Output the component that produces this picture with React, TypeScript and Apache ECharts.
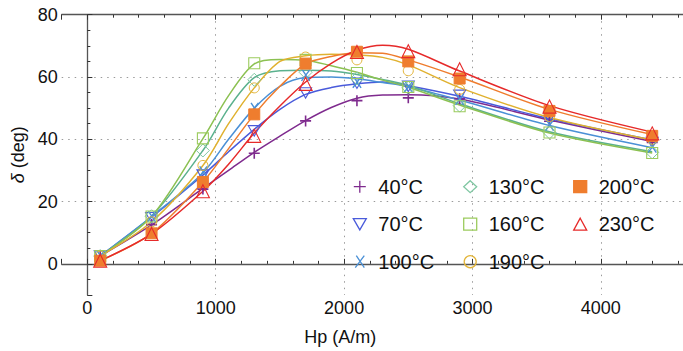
import React, { useEffect, useRef } from "react";
import * as echarts from "echarts";

// Measured Hp values (A/m) for markers
const HP = [100, 500, 900, 1300, 1700, 2100, 2500, 2900, 3600, 4400];
const FIT_HP = [100, 500, 900, 1100, 1300, 1500, 1700, 1900, 2100, 2300, 2500, 2900, 3600, 4400];

const NAMES = ["40°C", "70°C", "100°C", "130°C", "160°C", "190°C", "200°C", "230°C"];

// Marker values δ (deg)
const D40 = [2.5, 12.6, 24.0, 35.5, 45.9, 52.4, 53.3, 53.0, 45.8, 39.0];
const D70 = [2.5, 14.8, 28.5, 42.7, 54.9, 58.0, 57.0, 54.1, 47.0, 39.0];
const D100 = [2.5, 15.2, 29.5, 49.9, 60.5, 58.3, 56.8, 52.8, 44.5, 37.5];
const D130 = [2.5, 15.3, 36.4, 59.1, 61.5, 59.5, 56.5, 50.8, 42.2, 35.8];
const D160 = [2.5, 15.2, 40.3, 64.4, 65.5, 61.3, 56.8, 50.6, 42.2, 35.6];
const D190 = [2.5, 13.5, 31.6, 56.5, 66.4, 65.5, 62.0, 56.0, 47.3, 40.0];
const D200 = [1.0, 9.8, 26.3, 48.0, 64.3, 68.1, 65.0, 59.5, 49.1, 41.1];
const D230 = [1.0, 9.6, 23.3, 41.1, 57.8, 68.0, 68.3, 62.5, 50.5, 41.9];

// Fitted curve values δ (deg) at FIT_HP
const F40 = [2.5, 12.5, 24.2, 30.0, 35.8, 41.0, 46.0, 50.2, 53.2, 54.2, 54.3, 52.9, 46.2, 39.3];
const F70 = [2.5, 15.0, 28.5, 36.0, 43.2, 49.6, 54.4, 56.6, 57.8, 58.4, 57.2, 53.8, 46.6, 39.8];
const F100 = [2.5, 15.2, 29.2, 40.0, 50.0, 57.0, 59.8, 60.0, 59.4, 58.2, 56.9, 52.6, 44.4, 37.3];
const F130 = [2.5, 15.3, 36.4, 50.0, 59.8, 62.0, 62.2, 61.9, 60.8, 59.2, 57.3, 51.4, 42.4, 36.0];
const F160 = [2.5, 15.2, 40.2, 54.0, 64.2, 65.6, 65.4, 63.6, 61.5, 59.0, 56.7, 51.0, 42.0, 35.6];
const F190 = [2.5, 13.5, 31.6, 45.0, 56.5, 65.0, 66.8, 67.3, 67.1, 66.3, 63.9, 56.6, 47.0, 39.8];
const F200 = [1.0, 9.8, 26.3, 37.0, 48.0, 57.0, 64.2, 66.6, 67.8, 67.6, 65.5, 60.0, 49.6, 41.5];
const F230 = [1.0, 9.6, 23.3, 32.0, 42.0, 50.7, 58.4, 64.4, 68.6, 70.2, 68.9, 61.9, 50.8, 42.3];

const MARKERS = [D40, D70, D100, D130, D160, D190, D200, D230];
const FITS = [F40, F70, F100, F130, F160, F190, F200, F230];

// Styles (not data)
const LINE_COLORS = ["#7F2B8E", "#4A5BDB", "#4A90D6", "#5BB18E", "#8CC152", "#E0B12F", "#EF7D2E", "#E62A2A"];
const MARK_COLORS = ["#7F2B8E", "#4A5BDB", "#4A90D6", "#80C7A3", "#9CCB5E", "#E3B53A", "#EF7D2E", "#E62A2A"];
const SYMBOLS = [
  "path://M5,0L5,10M0,5L10,5",
  "path://M0,0L10,0L5,8.66Z",
  "path://M1,0L9,12M9,0L0,12",
  "diamond",
  "rect",
  "circle",
  "rect",
  "triangle",
];
const SIZES = [11, 12, 11, 13, 11, 10, 11, 13];
const FILLED = [false, false, false, false, false, false, true, false];
const STROKE = [1.6, 1.1, 1.4, 1.0, 1.1, 1.0, 1, 1.1];

const FONT = "'Liberation Sans', Arial, sans-serif";

export default function App() {
  const ref = useRef<HTMLDivElement>(null);
  useEffect(() => {
    if (!ref.current) return;
    const chart = echarts.init(ref.current, undefined, { renderer: "svg" });

    const lineSeries = FITS.map((f, i) => ({
      type: "line",
      name: NAMES[i] + " fit",
      data: FIT_HP.map((x, j) => [x, f[j]]),
      smooth: 0.3,
      showSymbol: false,
      symbol: "none",
      lineStyle: { color: LINE_COLORS[i], width: 1.5 },
      z: 2,
      silent: true,
    }));

    const scatterSeries = MARKERS.map((d, i) => ({
      type: "scatter",
      name: NAMES[i],
      data: HP.map((x, j) => [x, d[j]]),
      symbol: SYMBOLS[i],
      symbolSize: SIZES[i],
      symbolKeepAspect: true,
      itemStyle: {
        color: FILLED[i] ? MARK_COLORS[i] : "none",
        borderColor: MARK_COLORS[i],
        borderWidth: STROKE[i],
        opacity: 1,
      },
      z: 3,
      silent: true,
    }));

    const axisLine = { show: true, lineStyle: { color: "#555", width: 1.3 } };
    const grid = { color: "#9a9a9a", width: 1, type: [1.5, 5] as any };
    const plain = (v: number) => String(v);

    const legendCommon = {
      orient: "vertical",
      top: 176.7,
      padding: 0,
      itemWidth: 13,
      itemHeight: 12,
      itemGap: 17.5,
      selectedMode: false,
      textStyle: { fontSize: 20, fontFamily: FONT, color: "#111", lineHeight: 20, padding: [0, 0, 0, 7] },
      itemStyle: { borderWidth: 1.3 },
    };

    chart.setOption({
      animation: false,
      backgroundColor: "#fff",
      textStyle: { fontFamily: FONT },
      grid: { left: 61.7, top: 14.7, right: 0, bottom: 53.3, containLabel: false },
      legend: [
        { ...legendCommon, left: 350.8, data: NAMES.slice(0, 3) },
        { ...legendCommon, left: 461.2, data: NAMES.slice(3, 6) },
        { ...legendCommon, left: 571.2, data: NAMES.slice(6, 8) },
      ],
      xAxis: [
        {
          type: "value",
          position: "bottom",
          min: -200,
          max: 4640,
          splitNumber: 5,
          name: "Hp (A/m)",
          nameLocation: "middle",
          nameGap: 33,
          nameTextStyle: { fontSize: 18, color: "#111", fontFamily: FONT, padding: [0, 64, 0, 0] },
          axisLine,
          axisTick: { show: true, inside: true, length: 5, lineStyle: { color: "#333" } },
          minorTick: { show: true, splitNumber: 5, length: 3, lineStyle: { color: "#333" } },
          axisLabel: {
            fontSize: 18,
            color: "#111",
            margin: 4,
            showMinLabel: false,
            showMaxLabel: false,
            fontFamily: FONT,
            formatter: plain,
          },
          splitLine: {
            show: true,
            showMinLine: false,
            showMaxLine: false,
            lineStyle: { ...grid, color: ["transparent", "#9a9a9a", "#9a9a9a", "#9a9a9a", "#9a9a9a"] },
          },
          minorSplitLine: { show: false },
        },
        {
          type: "value",
          position: "top",
          min: -200,
          max: 4640,
          splitNumber: 5,
          axisLine,
          axisTick: { show: true, inside: true, length: 5, lineStyle: { color: "#333" } },
          minorTick: { show: true, splitNumber: 5, length: 3, lineStyle: { color: "#333" } },
          axisLabel: { show: false },
          splitLine: { show: false },
        },
      ],
      yAxis: {
        type: "value",
        min: -10,
        max: 80,
        splitNumber: 5,
        name: "{i|δ} (deg)",
        nameLocation: "middle",
        nameGap: 20,
        nameTextStyle: {
          fontSize: 18,
          color: "#111",
          fontFamily: FONT,
          rich: { i: { fontStyle: "italic", fontSize: 18, color: "#111", fontFamily: FONT } },
        },
        axisLine,
        axisTick: { show: true, inside: true, length: 5, lineStyle: { color: "#333" } },
        minorTick: { show: true, splitNumber: 4, length: 3, lineStyle: { color: "#333" } },
        axisLabel: { fontSize: 18, color: "#111", margin: 4, showMinLabel: false, fontFamily: FONT, formatter: plain },
        splitLine: { show: true, showMinLine: false, showMaxLine: false, lineStyle: grid },
      },
      series: [...lineSeries, ...scatterSeries],
    });

    return () => chart.dispose();
  }, []);

  return (
    <div
      ref={ref}
      style={{ position: "absolute", left: 0, top: 0, width: 683, height: 351, background: "#fff" }}
    />
  );
}
